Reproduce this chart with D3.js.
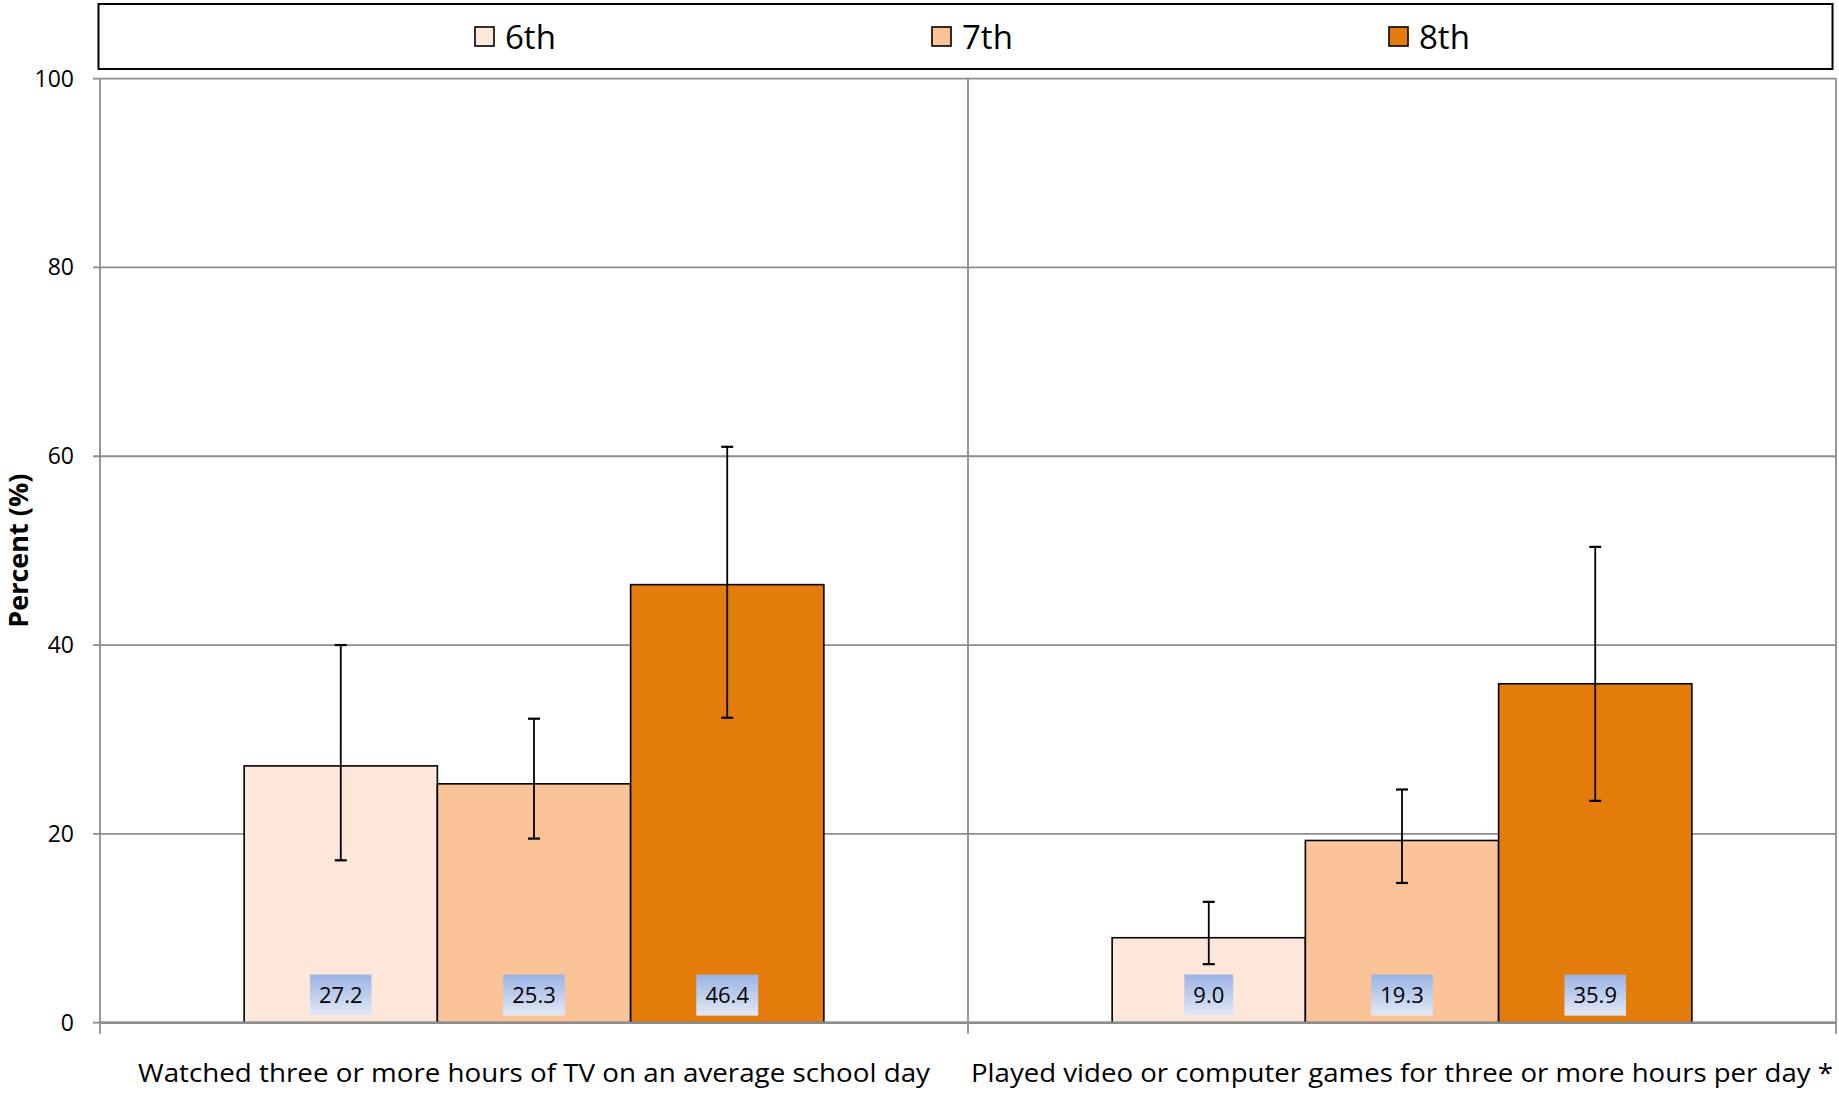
<!DOCTYPE html>
<html><head><meta charset="utf-8">
<script src="https://cdn.jsdelivr.net/npm/d3@7"></script>
<style>body{margin:0;background:#fff}svg{display:block}text{font-family:"Open Sans",sans-serif}</style>
</head><body><svg id="c" width="1839" height="1096"></svg>
<script>
const categories = ["Watched three or more hours of TV on an average school day","Played video or computer games for three or more hours per day *"];
const grades = ["6th","7th","8th"];
const values6 = [27.2, 9.0];
const values7 = [25.3, 19.3];
const values8 = [46.4, 35.9];
const lower6 = [17.2, 6.2];
const upper6 = [40.0, 12.8];
const lower7 = [19.5, 14.8];
const upper7 = [32.2, 24.7];
const lower8 = [32.3, 23.5];
const upper8 = [61.0, 50.4];
const yTicks = [0,20,40,60,80,100];
const colors = ["#FDE6DA","#FBC398","#E37C0B"];

const series = [values6, values7, values8];
const lows = [lower6, lower7, lower8];
const ups = [upper6, upper7, upper8];

const svg = d3.select("#c");
const L = 100, R = 1836, T = 78.6, B = 1022.7;
const x = d3.scaleBand().domain(categories).range([L, R]).paddingInner(0).paddingOuter(0);
const gx = d3.scaleBand().domain(grades).range([0, x.bandwidth()]).paddingInner(0).paddingOuter(0.746);
const y = d3.scaleLinear().domain([0,100]).range([B, T]);

// gridlines
svg.append("g").selectAll("line").data(yTicks).join("line")
  .attr("x1", L - 7).attr("x2", R).attr("y1", d => y(d)).attr("y2", d => y(d))
  .attr("stroke", "#8c8c8c").attr("stroke-width", 1.8);
// vertical lines
const vx = [L, L + x.bandwidth(), R];
svg.append("g").selectAll("line").data(vx).join("line")
  .attr("x1", d => d).attr("x2", d => d).attr("y1", T).attr("y2", B + 11)
  .attr("stroke", "#8c8c8c").attr("stroke-width", 1.8);

// tick labels
svg.append("g").selectAll("text").data(yTicks).join("text")
  .attr("x", L - 26).attr("y", d => y(d)).attr("dy", "0.35em")
  .attr("text-anchor", "end").attr("font-size", 23).attr("fill", "#000").text(d => d);

// bars
const groups = svg.append("g").selectAll("g").data(categories).join("g")
  .attr("transform", d => `translate(${x(d)},0)`);
grades.forEach((g, gi) => {
  groups.append("rect")
    .attr("x", gx(g)).attr("width", gx.bandwidth())
    .attr("y", (d, ci) => y(series[gi][ci]))
    .attr("height", (d, ci) => y(0) - y(series[gi][ci]))
    .attr("fill", colors[gi]).attr("stroke", "#000").attr("stroke-width", 1.6);
});

// axis baseline over bars
svg.append("line").attr("x1", L).attr("x2", R).attr("y1", y(0)).attr("y2", y(0))
  .attr("stroke", "#8c8c8c").attr("stroke-width", 2.5);

// error bars
grades.forEach((g, gi) => {
  categories.forEach((c, ci) => {
    const xx = x(c) + gx(g) + gx.bandwidth() / 2;
    const eg = svg.append("g").attr("stroke", "#000").attr("stroke-width", 1.8);
    eg.append("line").attr("x1", xx).attr("x2", xx).attr("y1", y(lows[gi][ci])).attr("y2", y(ups[gi][ci]));
    [lows[gi][ci], ups[gi][ci]].forEach(v => {
      eg.append("line").attr("x1", xx - 6).attr("x2", xx + 6).attr("y1", y(v)).attr("y2", y(v)).attr("stroke-width", 2.2);
    });
  });
});

// data labels
const defs = svg.append("defs");
const grad = defs.append("linearGradient").attr("id", "lg").attr("x1", 0).attr("x2", 0).attr("y1", 0).attr("y2", 1);
grad.append("stop").attr("offset", "0%").attr("stop-color", "#9BB2E4");
grad.append("stop").attr("offset", "100%").attr("stop-color", "#E3E9F6");
grades.forEach((g, gi) => {
  categories.forEach((c, ci) => {
    const xx = x(c) + gx(g) + gx.bandwidth() / 2;
    const lg = svg.append("g");
    const t = lg.append("text").attr("x", xx).attr("y", (y(5.1) + y(0.75)) / 2).attr("dy", "0.35em")
      .attr("text-anchor", "middle").attr("font-size", 22).attr("fill", "#000")
      .text(series[gi][ci].toFixed(1));
    const bb = t.node().getBBox();
    lg.insert("rect", "text").attr("x", xx - bb.width / 2 - 9).attr("width", bb.width + 18)
      .attr("y", y(5.1)).attr("height", y(0.75) - y(5.1)).attr("fill", "url(#lg)");
  });
});

// category labels
svg.append("g").selectAll("text").data(categories).join("text")
  .attr("x", d => x(d) + x.bandwidth() / 2).attr("y", 1082)
  .attr("text-anchor", "middle").attr("font-size", 26).attr("fill", "#000")
  .attr("textLength", (d, i) => i === 0 ? 792 : 862).attr("lengthAdjust", "spacingAndGlyphs")
  .text(d => d);

// y title
svg.append("text").attr("transform", `translate(19,${(y(0)+y(100))/2}) rotate(-90)`)
  .attr("text-anchor", "middle").attr("font-size", 27).attr("font-weight", "bold").attr("dy", "0.35em")
  .text("Percent (%)");

// legend
svg.append("rect").attr("x", 98.5).attr("y", 4).attr("width", 1734).attr("height", 65)
  .attr("fill", "#fff").attr("stroke", "#000").attr("stroke-width", 2);
const legX = [475, 932, 1389];
grades.forEach((g, gi) => {
  svg.append("rect").attr("x", legX[gi]).attr("y", 27).attr("width", 19).attr("height", 19)
    .attr("fill", colors[gi]).attr("stroke", "#000").attr("stroke-width", 1.6);
  svg.append("text").attr("x", legX[gi] + 30).attr("y", 37).attr("dy", "0.35em")
    .attr("font-size", 33).attr("fill", "#000").text(g);
});
</script></body></html>
